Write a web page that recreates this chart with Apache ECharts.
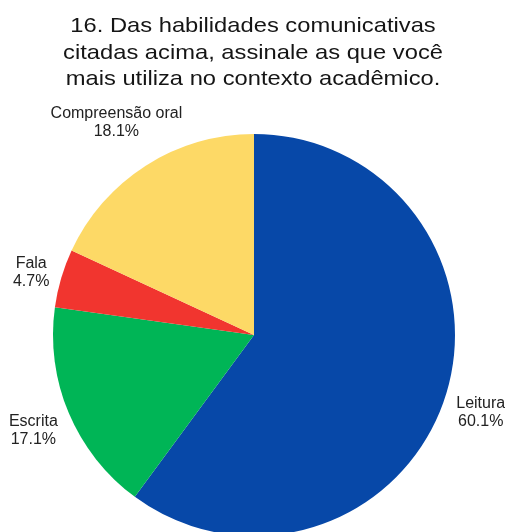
<!DOCTYPE html>
<html>
<head>
<meta charset="utf-8">
<script src="https://cdn.jsdelivr.net/npm/echarts@6/dist/echarts.min.js"></script>
<style>
  html, body { margin: 0; padding: 0; background: #fff; }
  #chart { width: 505px; height: 532px; }
</style>
</head>
<body>
<div id="chart"></div>
<script>
// Survey answers: most used communicative skills (share of responses)
const categories = ['Leitura', 'Escrita', 'Fala', 'Compreensão oral'];
const percentages = [60.1, 17.1, 4.7, 18.1];
const sliceColors = ['#0748A8', '#00B556', '#F1352F', '#FDD966'];

const titleText = '16. Das habilidades comunicativas\ncitadas acima, assinale as que você\nmais utiliza no contexto acadêmico.';

const pieCenter = [254, 335];
const pieRadius = 201;
const cornerGap = 9;   // distance between rim and the label box's nearest corner
const labelDrop = 3;

const total = percentages.reduce((a, b) => a + b, 0);
// mid-angle of each slice, clockwise from 12 o'clock
const midAngles = [];
let acc = 0;
percentages.forEach(v => {
  midAngles.push((acc + v / 2) / total * 2 * Math.PI);
  acc += v;
});

const chart = echarts.init(document.getElementById('chart'), null, { renderer: 'canvas' });
chart.setOption({
  animation: false,
  backgroundColor: '#ffffff',
  // heading drawn as a slightly widened text block
  graphic: [{
    type: 'text',
    x: 253,
    y: 13,
    scaleX: 1.13,
    scaleY: 1,
    silent: true,
    style: {
      text: titleText,
      font: '21px "Liberation Sans", Arial, sans-serif',
      fill: '#151515',
      lineHeight: 26.5,
      textAlign: 'center',
      textVerticalAlign: 'top',
      align: 'center',
      verticalAlign: 'top'
    }
  }],
  series: [{
    type: 'pie',
    center: pieCenter,
    radius: pieRadius,
    startAngle: 90,
    clockwise: true,
    avoidLabelOverlap: false,
    itemStyle: { borderWidth: 0 },
    label: {
      show: true,
      position: 'outside',
      formatter: p => p.name + '\n' + p.value.toFixed(1) + '%',
      fontFamily: 'Liberation Sans, Arial, sans-serif',
      fontSize: 16,
      lineHeight: 18,
      color: '#222',
      align: 'center'
    },
    labelLine: { show: false },
    // slide each label out along its slice's mid-angle until the box corner
    // nearest the pie sits a fixed gap outside the rim
    labelLayout: params => {
      const a = midAngles[params.dataIndex];
      const ux = Math.sin(a), uy = -Math.cos(a);
      const hw = params.labelRect.width / 2, hh = params.labelRect.height / 2;
      const sx = Math.sign(ux) * hw, sy = Math.sign(uy) * hh;
      const proj = ux * sx + uy * sy;
      const D = pieRadius + cornerGap;
      const t = proj + Math.sqrt(proj * proj - (sx * sx + sy * sy) + D * D);
      return {
        x: pieCenter[0] + ux * t,
        y: pieCenter[1] + uy * t + labelDrop,
        align: 'center',
        verticalAlign: 'middle'
      };
    },
    data: categories.map((name, i) => ({
      name: name,
      value: percentages[i],
      itemStyle: { color: sliceColors[i] }
    }))
  }]
});
</script>
</body>
</html>
